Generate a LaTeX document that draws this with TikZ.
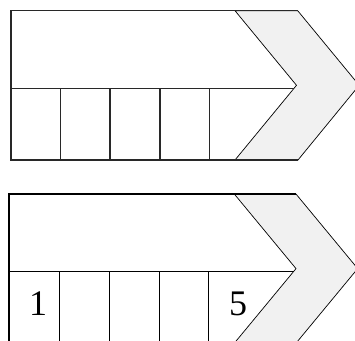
\documentclass[tikz,border=0pt]{standalone}
\usepackage{fontspec}
\setmainfont{Liberation Serif}
\begin{document}
\begin{tikzpicture}[x=1bp,y=-1bp,
  chev/.style={fill={rgb,255:red,241;green,241;blue,241},draw=black,line width=0.7bp,line join=miter},
  grid/.style={draw={rgb,255:red,40;green,40;blue,40},line width=1.3bp},
  thick grid/.style={draw=black,line width=1.6bp},
  lab/.style={font=\fontsize{36bp}{42bp}\selectfont,inner sep=0pt,anchor=center}]
\useasboundingbox (0,0) rectangle (355,341);
\clip (0,0) rectangle (355,341);
% ---------- top panel ----------
\fill[white] (11,10.7) rectangle (298,160);
\draw[chev] (235,10.7) -- (297.7,10.7) -- (359.2,85.3) -- (298,160) -- (235,160) -- (296.5,85.3) -- cycle;
\draw[grid] (297.7,10.7) -- (11,10.7) -- (11,160) -- (298,160);
\draw[grid] (11,88.7) -- (293.7,88.7);
\foreach \x in {60.3,110,160,209.7} \draw[grid] (\x,88.7) -- (\x,160);
% ---------- bottom panel ----------
\draw[chev] (234.3,194) -- (296,194) -- (357.7,268.6) -- (296,343.2) -- (234.3,343.2) -- (296,268.6) -- cycle;
\draw[thick grid] (296,194) -- (9.3,194) -- (9.3,345);
\draw[grid,draw=black,line width=1bp] (9.3,271) -- (294,271);
\foreach \x in {59.3,109.3,159,208.7} \draw[grid,draw=black,line width=1bp] (\x,271) -- (\x,345);
\node[lab] (one) at (38,303.7) {1};
\node[lab] (five) at (238,304) {5};
\end{tikzpicture}
\end{document}
